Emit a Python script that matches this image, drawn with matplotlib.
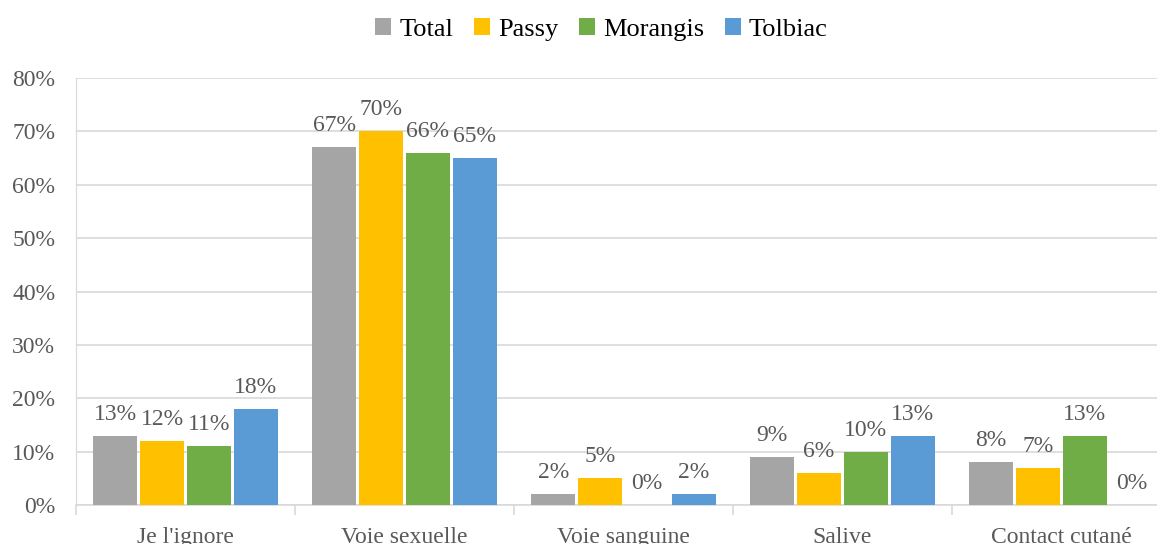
import numpy as np
import matplotlib.pyplot as plt
from matplotlib.ticker import FixedLocator, PercentFormatter

plt.rcParams['font.family'] = ['Liberation Serif', 'DejaVu Serif']

categories = ["Je l'ignore", "Voie sexuelle", "Voie sanguine", "Salive", "Contact cutané"]
series = ["Total", "Passy", "Morangis", "Tolbiac"]
total = [13, 67, 2, 9, 8]
passy = [12, 70, 5, 6, 7]
morangis = [11, 66, 0, 10, 13]
tolbiac = [18, 65, 2, 13, 0]
colors = ["#A5A5A5", "#FFC000", "#70AD47", "#5B9BD5"]

values = [total, passy, morangis, tolbiac]

fig = plt.figure(figsize=(11.57, 5.44), dpi=100)
ax = fig.add_axes([76 / 1157, 39 / 544, 1095 / 1157, 427 / 544])

x = np.arange(len(categories))
step = 0.214
width = 0.2
for i, (name, vals, c) in enumerate(zip(series, values, colors)):
    pos = x + (i - 1.5) * step
    bars = ax.bar(pos, vals, width, color=c, label=name, zorder=3)
    for b, v in zip(bars, vals):
        ax.annotate(f"{v}%", (b.get_x() + b.get_width() / 2, v),
                    xytext=(0, 8), textcoords="offset points",
                    ha="center", va="bottom", fontsize=17, color="#595959")

ax.set_xlim(-0.5, len(categories) - 0.5)
ax.set_ylim(0, 80)
ax.set_yticks(range(0, 81, 10))
ax.yaxis.set_major_formatter(PercentFormatter(decimals=0))
ax.grid(axis="y", color="#D9D9D9", linewidth=1.2, zorder=0)

ax.set_xticks(x)
ax.set_xticklabels(categories)
ax.xaxis.set_minor_locator(FixedLocator(np.arange(-0.5, len(categories), 1)))
ax.tick_params(axis="x", which="major", length=0, pad=15.5, labelsize=17, labelcolor="#595959")
ax.tick_params(axis="x", which="minor", length=7, width=1.2, color="#D9D9D9")
ax.tick_params(axis="y", length=0, pad=15, labelsize=17, labelcolor="#595959")

for s in ["top", "right"]:
    ax.spines[s].set_visible(False)
ax.spines["left"].set_color("#D9D9D9")
ax.spines["bottom"].set_color("#D9D9D9")
ax.spines["bottom"].set_linewidth(1.2)

fig.legend(loc="upper center", bbox_to_anchor=(0.52, 1.01), ncol=4, frameon=False,
           fontsize=19, handlelength=0.6, handleheight=0.6, handletextpad=0.3,
           columnspacing=0.8)

fig.savefig("out.png", dpi=100)
